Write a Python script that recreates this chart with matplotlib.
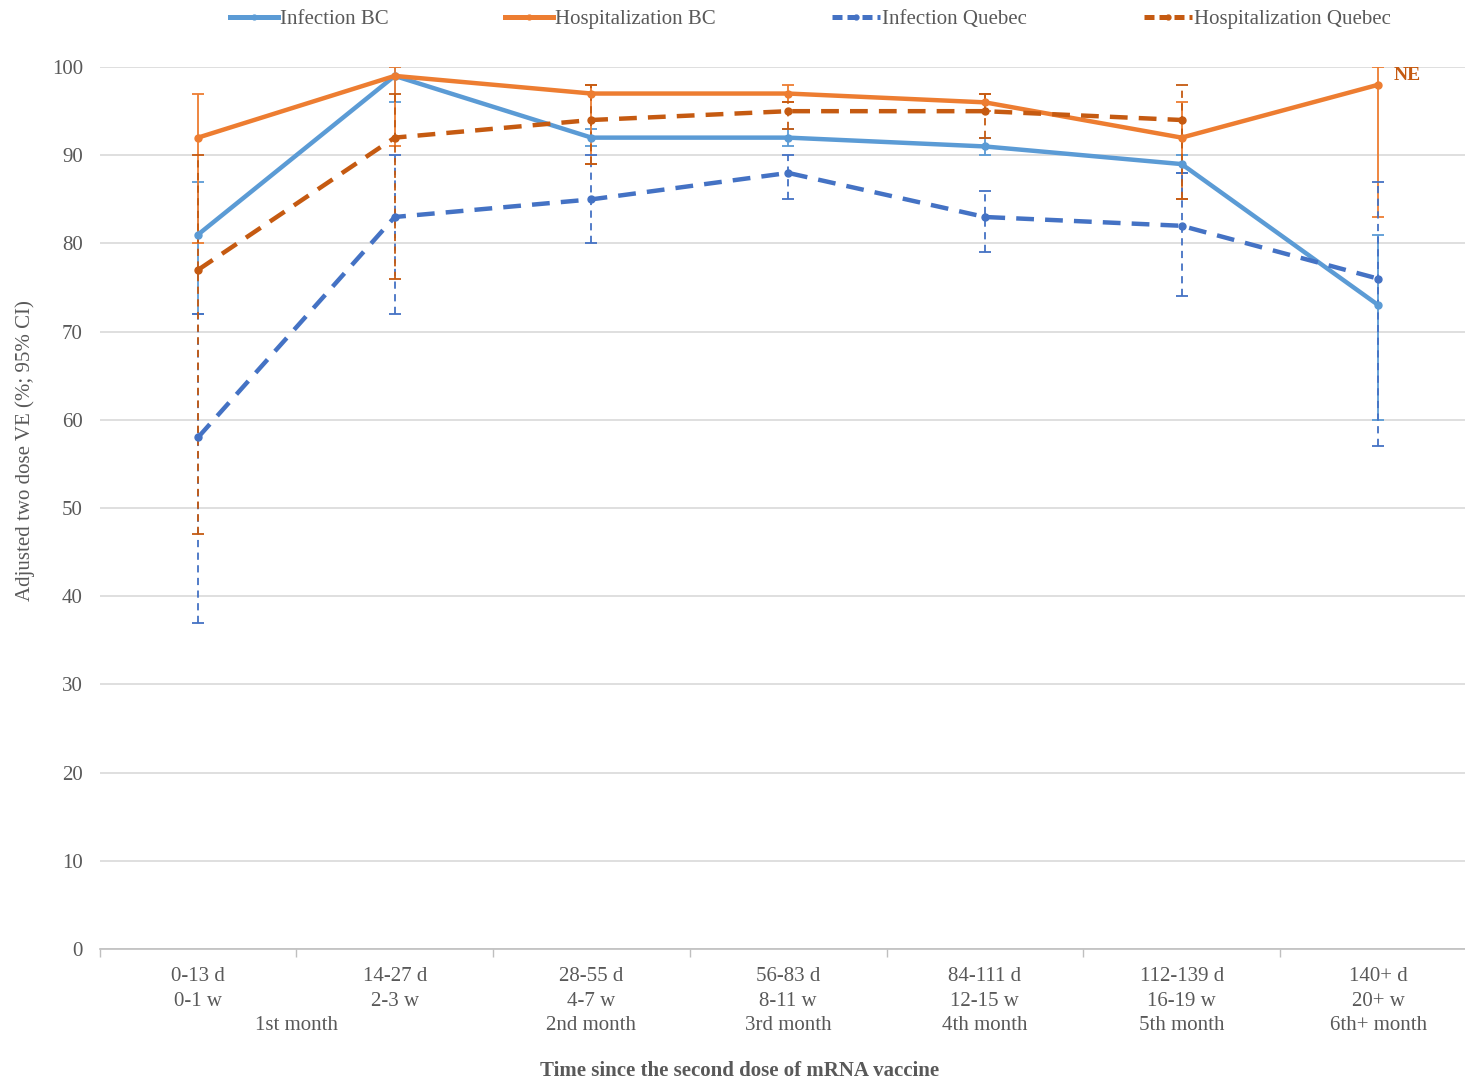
import numpy as np
import matplotlib.pyplot as plt
from matplotlib.lines import Line2D

# --- data ---
periods_d = ['0-13 d', '14-27 d', '28-55 d', '56-83 d', '84-111 d', '112-139 d', '140+ d']
periods_w = ['0-1 w', '2-3 w', '4-7 w', '8-11 w', '12-15 w', '16-19 w', '20+ w']
months = ['1st month', '2nd month', '3rd month', '4th month', '5th month', '6th+ month']
month_pos = [0.5, 2, 3, 4, 5, 6]

inf_bc = [81, 99, 92, 92, 91, 89, 73]
inf_bc_lo = [72, 96, 91, 91, 90, 88, 60]
inf_bc_hi = [87, 100, 93, 93, 92, 90, 81]

hosp_bc = [92, 99, 97, 97, 96, 92, 98]
hosp_bc_lo = [80, 91, 89, 96, 95, 85, 83]
hosp_bc_hi = [97, 100, 98, 98, 97, 96, 100]

inf_qc = [58, 83, 85, 88, 83, 82, 76]
inf_qc_lo = [37, 72, 80, 85, 79, 74, 57]
inf_qc_hi = [72, 90, 90, 90, 86, 88, 87]

hosp_qc = [77, 92, 94, 95, 95, 94, np.nan]
hosp_qc_lo = [47, 76, 89, 93, 92, 85, np.nan]
hosp_qc_hi = [90, 97, 98, 96, 97, 98, np.nan]

C_INF_BC = '#5B9BD5'
C_HOSP_BC = '#ED7D31'
C_INF_QC = '#4472C4'
C_HOSP_QC = '#C55A11'
GREY = '#595959'

plt.rcParams['font.family'] = ['Liberation Serif', 'DejaVu Serif']

fig = plt.figure(figsize=(14.65, 10.82), dpi=100)
ax = fig.add_axes([0.068, 0.123, 0.94, 0.815])

x = np.arange(len(periods_d))

series = [
    (inf_bc, inf_bc_lo, inf_bc_hi, C_INF_BC, '-', 'Infection BC'),
    (hosp_bc, hosp_bc_lo, hosp_bc_hi, C_HOSP_BC, '-', 'Hospitalization BC'),
    (inf_qc, inf_qc_lo, inf_qc_hi, C_INF_QC, '--', 'Infection Quebec'),
    (hosp_qc, hosp_qc_lo, hosp_qc_hi, C_HOSP_QC, '--', 'Hospitalization Quebec'),
]

handles = []
for vals, lo, hi, col, ls, lab in series:
    vals = np.array(vals, dtype=float)
    yerr = np.array([vals - np.array(lo, dtype=float), np.array(hi, dtype=float) - vals])
    eb = ax.errorbar(x, vals, yerr=yerr, fmt='none', ecolor=col, elinewidth=1.3,
                     capsize=4, capthick=1.3, zorder=2)
    if ls == '--':
        eb[2][0].set_linestyle((0, (4, 3)))
        ax.plot(x, vals, color=col, lw=3.2, ls=(0, (4, 2.5)), marker='o', ms=5, zorder=3)
    else:
        ax.plot(x, vals, color=col, lw=3.2, ls='-', marker='o', ms=5, zorder=3)
    handles.append(Line2D([], [], color=col, lw=3.6, ls=(0, (2, 1)) if ls == '--' else '-',
                          marker='o', ms=3.5, label=lab))

ax.text(6.08, 99, 'NE', color=C_HOSP_QC, fontsize=14, fontweight='bold', va='center')

ax.set_xlim(-0.5, 6.5)
ax.set_ylim(0, 100)
ax.set_yticks(np.arange(0, 101, 10))
ax.tick_params(axis='y', length=0, labelsize=15, labelcolor=GREY, pad=12)
ax.grid(axis='y', color='#D9D9D9', lw=1.2)
ax.set_axisbelow(True)

ax.set_xticks(x)
ax.set_xticklabels([d + '\n' + w for d, w in zip(periods_d, periods_w)],
                   fontsize=15, color=GREY, linespacing=1.45)
ax.tick_params(axis='x', which='major', length=0, pad=13)
ax.set_xticks(np.arange(-0.5, 6.6, 1), minor=True)
ax.tick_params(axis='x', which='minor', length=6, color='#BFBFBF', width=1)

for pos, m in zip(month_pos, months):
    ax.annotate(m, xy=(pos, 0), xycoords=('data', 'axes fraction'), xytext=(0, -55),
                textcoords='offset points', ha='center', va='center', fontsize=15, color=GREY)

for s in ['top', 'right', 'left']:
    ax.spines[s].set_visible(False)
ax.spines['bottom'].set_color('#BFBFBF')
ax.spines['bottom'].set_linewidth(1.2)

ax.set_ylabel('Adjusted two dose VE (%; 95% CI)', fontsize=15, color=GREY)
ax.yaxis.set_label_coords(-0.047, 0.565)
fig.text(0.505, 0.01, 'Time since the second dose of mRNA vaccine', ha='center', va='center',
         fontsize=15, fontweight='bold', color=GREY)

fig.legend(handles=handles, loc='center', bbox_to_anchor=(0.553, 0.982), ncol=4, frameon=False,
           fontsize=15, labelcolor=GREY, handlelength=2.3, handletextpad=0.1, columnspacing=5.6)

fig.savefig('out.png', dpi=100)
